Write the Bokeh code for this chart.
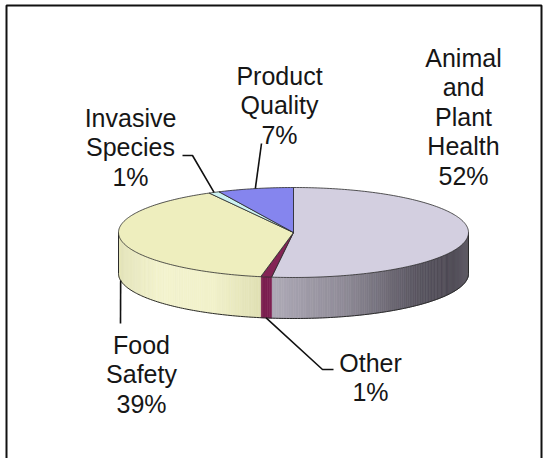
import numpy as np
from bokeh.plotting import figure
from bokeh.models import Range1d
from bokeh.embed import file_html
from bokeh.resources import INLINE
from bokeh.core.properties import value

# ---------------- data ----------------
categories = ["Animal and Plant Health", "Other", "Food Safety", "Invasive Species", "Product Quality"]
label_words = [["Animal", "and", "Plant", "Health"], ["Other"], ["Food", "Safety"],
               ["Invasive", "Species"], ["Product", "Quality"]]
shares = [52, 1, 39, 1, 7]
top_colors = ["#d3cfe0", "#832455", "#eeeebe", "#ccf2f2", "#8585ee"]

# ---------------- layout / style ----------------
W, H = 543, 458
X0, Y0 = 0, 0
CX, CY, RX, RY, DEPTH = 293, 232, 175, 45, 41
FONT = "Liberation Sans"
FONT_SIZE = "25px"
LINE_STEP = 29.5
label_pos = {  # centre x, first-line centre y
    "Animal and Plant Health": (463, 57),
    "Other": (370, 362),
    "Food Safety": (141, 344),
    "Invasive Species": (130, 117),
    "Product Quality": (279, 75),
}
leader_pts = {  # path from slice to label (after the anchor on the slice)
    "Other": [(322, 369), (333, 369)],
    "Food Safety": [(120, 323)],
    "Invasive Species": [(192, 155), (182, 155)],
    "Product Quality": [(261, 143)],
}
side_stops = {
    "Animal and Plant Health": [(-0.2, "#b4b0bd"), (0.3, "#8e8a96"), (0.7, "#5a5661"),
                                (0.92, "#4b4752"), (1.0, "#625e68")],
    "Other": [(-1, "#7c2050"), (1, "#7c2050")],
    "Food Safety": [(-1.0, "#e4e4ba"), (-0.75, "#f3f3ce"), (-0.45, "#f1f1ca"),
                    (-0.1, "#dadaac")],
}


def hex2rgb(h):
    h = h.lstrip("#")
    return np.array([int(h[i:i + 2], 16) for i in (0, 2, 4)], dtype=float)


def rgb2hex(c):
    c = np.clip(np.round(c), 0, 255).astype(int)
    return "#%02x%02x%02x" % tuple(c)


def shade(name, nx, fallback):
    stops = side_stops.get(name)
    if not stops:
        return rgb2hex(hex2rgb(fallback) * 0.7)
    xs = [s[0] for s in stops]
    cols = np.array([hex2rgb(s[1]) for s in stops])
    return rgb2hex([np.interp(nx, xs, cols[:, k]) for k in range(3)])


def ex(a):
    return CX + RX * np.cos(np.radians(a))


def ey(a):
    return CY - RY * np.sin(np.radians(a))


p = figure(width=W, height=H, output_backend="svg", toolbar_location=None,
           x_range=Range1d(X0, X0 + W), y_range=Range1d(Y0 + H, Y0),
           min_border=0, outline_line_color=None)
p.axis.visible = False
p.grid.visible = False
p.background_fill_color = "white"
p.border_fill_color = "white"

# frame (left, top, right)
p.line([6, 6, W - 2, W - 2], [H, 5, 5, H], line_color="#111111", line_width=2)

# slice angles (start at 12 o'clock, clockwise)
total = float(sum(shares))
starts, ends = [], []
acc = 0.0
for v in shares:
    a0 = 90 - 360 * acc / total
    a1 = a0 - 360 * v / total
    starts.append(a0)
    ends.append(a1)
    acc += v

# side strips (front half only)
sx, sy, sc = [], [], []
for name, a0, a1, col in zip(categories, starts, ends, top_colors):
    for k in range(-2, 2):
        lo = max(a1, -180 + 360 * k)
        hi = min(a0, 0 + 360 * k)
        if hi <= lo:
            continue
        n = max(2, int(np.ceil((hi - lo) / 0.8)) + 1)
        ang = np.linspace(lo, hi, n)
        for t0, t1 in zip(ang[:-1], ang[1:]):
            x0, x1 = ex(t0), ex(t1)
            y0, y1 = ey(t0), ey(t1)
            sx.append([x0, x1, x1, x0])
            sy.append([y0, y1, y1 + DEPTH, y0 + DEPTH])
            sc.append(shade(name, ((x0 + x1) / 2 - CX) / RX, col))
p.patches(sx, sy, fill_color=sc, line_color=sc, line_width=0.6)

# side outline: bottom arc and vertical edges
ang = np.linspace(-180, 0, 200)
p.line(ex(ang), ey(ang) + DEPTH, line_color="#2a2a2a", line_width=1)
for a in (180, 0):
    p.line([ex(a), ex(a)], [ey(a), ey(a) + DEPTH], line_color="#2a2a2a", line_width=1)

# top faces
tx, ty = [], []
for a0, a1 in zip(starts, ends):
    n = max(3, int(np.ceil((a0 - a1) / 1.0)) + 1)
    ang = np.linspace(a0, a1, n)
    tx.append([CX] + list(ex(ang)))
    ty.append([CY] + list(ey(ang)))
p.patches(tx, ty, fill_color=top_colors, line_color="#2a2a2a", line_width=0.8)

# leader lines
for name, a0, a1 in zip(categories, starts, ends):
    if name not in leader_pts:
        continue
    mid = (a0 + a1) / 2
    x, y = ex(mid), ey(mid)
    if np.sin(np.radians(mid)) < 0:
        y += DEPTH
    px = [x] + [q[0] for q in leader_pts[name]]
    py = [y] + [q[1] for q in leader_pts[name]]
    p.line(px, py, line_color="#111111", line_width=1.6)

# labels
lx, ly, lt = [], [], []
for name, words, v in zip(categories, label_words, shares):
    cx, cy = label_pos[name]
    lines = words + ["%d%%" % v]
    for i, t in enumerate(lines):
        lx.append(cx)
        ly.append(cy + i * LINE_STEP)
        lt.append(t)
p.text(lx, ly, text=lt, text_font=value(FONT), text_font_size=FONT_SIZE,
       text_align="center", text_baseline="middle", text_color="#161616")

open("out.html", "w").write(file_html(p, INLINE))
